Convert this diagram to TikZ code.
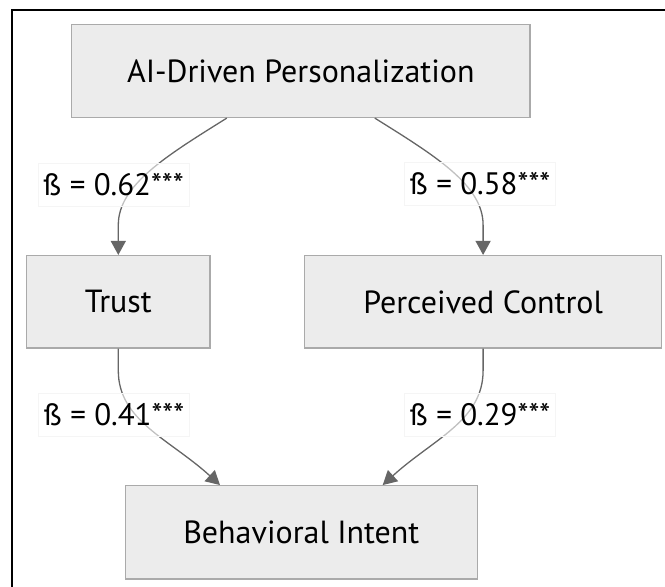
\documentclass[tikz,border=0pt]{standalone}
\usepackage{fontspec}
\setmainfont{PT Sans}
\usetikzlibrary{arrows.meta,calc}
\definecolor{boxfill}{HTML}{ECECEC}
\definecolor{boxline}{HTML}{AAAAAA}
\definecolor{edgecol}{HTML}{666666}
\begin{document}
\begin{tikzpicture}[x=1pt,y=-1pt,
  box/.style={draw=boxline, fill=boxfill, line width=1.2pt, inner sep=0pt, font=\fontsize{32}{38}\selectfont, text=black},
  conn/.style={draw=edgecol, line width=1.3pt, -{Triangle[length=14pt,width=15pt]}},
  lbl/.style={fill=white, fill opacity=0.6, text opacity=1, draw=black!4, line width=0.6pt, minimum width=151pt, minimum height=43pt, inner sep=0pt, font=\fontsize{31}{37}\selectfont, text=black}]
\useasboundingbox (0,0) rectangle (665,587);
\draw[line width=2pt, line join=miter] (11.7,587) -- (11.7,10) -- (665,10);

\node[box, minimum width=458.5pt, minimum height=93pt] (ai) at (300.8,71) {AI-Driven Personalization};
\node[box, minimum width=183.3pt, minimum height=92.5pt] (trust) at (118.3,301.8) {Trust};
\node[box, minimum width=357.2pt, minimum height=92.5pt] (pc) at (483.1,301.8) {Perceived Control};
\node[box, minimum width=352pt, minimum height=93.3pt] (bi) at (301.3,532.3) {Behavioral Intent};

\coordinate (s1) at ([xshift=-74pt]ai.south);
\coordinate (s2) at ([xshift=74pt]ai.south);
\coordinate (e3) at ([xshift=-81.3pt]bi.north);
\coordinate (e4) at ([xshift=81.4pt]bi.north);

\draw[conn] (s1) .. controls ($(s1)+(-60,37.5)$) and ($(trust.north)+(0,-70)$) .. ($(trust.north)+(0,-30)$) -- (trust.north);
\draw[conn] (s2) .. controls ($(s2)+(60,37.5)$) and ($(pc.north)+(0,-70)$) .. ($(pc.north)+(0,-30)$) -- (pc.north);
\draw[conn] (trust.south) -- ($(trust.south)+(0,22)$) .. controls ($(trust.south)+(0,72)$) and ($(e3)+(-50,-45.7)$) .. (e3);
\draw[conn] (pc.south) -- ($(pc.south)+(0,22)$) .. controls ($(pc.south)+(0,72)$) and ($(e4)+(50,-45.7)$) .. (e4);

\node[lbl] (l1) at (113.5,185) {ß = 0.62***};
\node[lbl] (l2) at (480,184) {ß = 0.58***};
\node[lbl] (l3) at (114,415) {ß = 0.41***};
\node[lbl] (l4) at (480,414.5) {ß = 0.29***};
\end{tikzpicture}
\end{document}
